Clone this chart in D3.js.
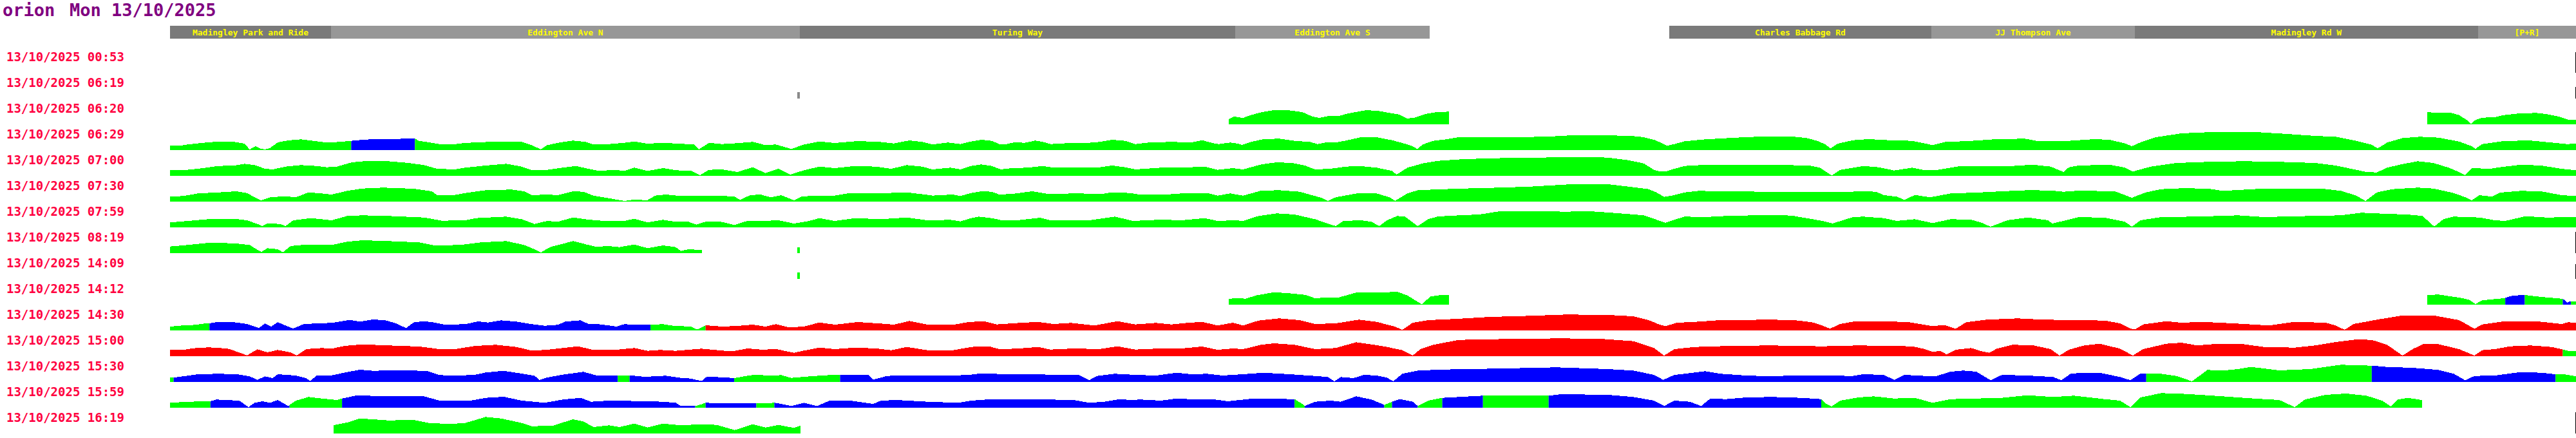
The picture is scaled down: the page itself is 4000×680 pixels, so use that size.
<!DOCTYPE html>
<html><head><meta charset="utf-8">
<script src="https://cdn.jsdelivr.net/npm/d3@7"></script>
<style>body{margin:0;background:#fff;overflow:hidden}svg{display:block}</style>
</head><body>
<svg id="c" width="4000" height="680"></svg>
<script>
// ---------- data ----------
const titleName = "orion";
const titleDate = "Mon 13/10/2025";
const rowLabels = ["13/10/2025 00:53","13/10/2025 06:19","13/10/2025 06:20","13/10/2025 06:29","13/10/2025 07:00","13/10/2025 07:30","13/10/2025 07:59","13/10/2025 08:19","13/10/2025 14:09","13/10/2025 14:12","13/10/2025 14:30","13/10/2025 15:00","13/10/2025 15:30","13/10/2025 15:59","13/10/2025 16:19"];
const stopNames = ["Madingley Park and Ride","Eddington Ave N","Turing Way","Eddington Ave S","Charles Babbage Rd","JJ Thompson Ave","Madingley Rd W","[P+R]"];
const stopFrom = [0, 6.69, 26.18, 44.27, 62.31, 73.21, 81.66, 95.93];
const stopTo   = [6.69, 26.18, 44.27, 52.36, 73.21, 81.66, 95.93, 100];
const statusColors = {g:"#00ff00", b:"#0000ff", r:"#ff0000", x:"#8a8a8a"};

// speed profiles: [route %, value]; null value = gap
const r0620 = [[44.0,7.7],[44.22,12.3],[44.39,11],[44.6,10],[44.9,14],[45.35,18.7],[45.84,21.7],[46.5,21.7],[47.06,19],[47.49,12],[47.76,10],[48.12,12.7],[48.55,12.7],[48.98,17],[49.68,21.7],[50.15,21.3],[50.69,17.7],[51.11,15],[51.39,9.3],[51.69,9.7],[52.18,16],[52.6,18.7],[53.16,19.7],[53.2,null],
[93.81,19.3],[94.07,18],[94.82,17.7],[95.14,14.3],[95.46,6.7],[95.63,0.7],[95.82,6.7],[96.1,10.3],[96.63,11],[96.95,14],[97.59,16.7],[98.34,17.7],[98.76,16],[99.3,12],[99.72,6.7],[100,6.7]];
const r0629 = [[0,6.7],[0.42,6.7],[0.74,8.7],[1.38,11.3],[2.02,13.3],[2.67,12.7],[3.1,10],[3.31,1],[3.56,6],[3.73,2.7],[3.95,1],[4.16,3.3],[4.48,12],[4.91,15],[5.44,16.7],[5.97,14.3],[6.51,11.7],[7.04,12.7],[7.53,14.3],[8.0,16],[8.64,17.3],[9.28,17.3],[9.92,17.7],[10.18,17.7],[10.35,14.3],[10.77,12],[11.2,9.3],[11.73,8.7],[12.16,10.7],[12.7,12],[13.76,13.3],[14.62,12.7],[15.04,7.7],[15.41,1],[15.68,7.7],[16.22,12],[16.75,14.7],[17.28,12.7],[17.6,8.7],[18.24,9.3],[18.88,11.3],[19.3,13.3],[19.85,10],[20.49,11.3],[21.13,10],[21.77,8.7],[21.98,1],[22.4,11.3],[22.94,9.3],[23.58,10.7],[24.22,12.7],[24.75,7.7],[25.18,8.7],[25.5,5.3],[25.82,1.7],[26.35,8.7],[26.99,13.3],[27.63,11],[28.49,13.7],[29.34,13.3],[30.09,10.3],[30.73,15],[31.26,12.7],[31.69,8.7],[32.33,11.7],[32.86,9.3],[33.29,13.3],
[33.72,16],[34.15,14.3],[34.47,9.3],[34.68,8.7],[35.11,12],[35.53,11.3],[35.96,14.7],[36.28,12.7],[36.6,9.3],[37.56,11.3],[38.2,11.3],[38.63,12.7],[39.16,16],[39.7,14.3],[40.12,9.3],[40.76,12],[41.62,12.7],[42.47,12],[42.9,15.3],[43.32,11],[43.58,9.3],[44.07,11.7],[44.39,10],[44.56,8],[44.92,12.7],[45.46,17],[46.1,17.7],[46.74,14.3],[47.38,12.7],[47.7,9.3],[48.02,11.7],[48.45,11.7],[48.87,14.7],[49.51,20],[50.15,20],[50.79,15.3],[51.32,10],[51.65,6],[51.84,1.7],[52.07,8.7],[52.5,14.3],[53.03,16.7],[53.57,20],[55.49,20],[57.19,20.7],[58.15,22.7],[59.97,22.7],[60.82,21.7],[61.25,20],[61.68,16],[62.0,11],[62.21,6.7],[62.53,9.3],[62.96,13.7],[63.81,16.7],[64.45,18],[65.09,19.3],[65.94,20.7],
[66.54,20.7],[67.5,20.7],[68.03,18.7],[68.46,14.3],[68.78,9.3],[69.02,2.7],[69.31,10],[69.95,15.3],[70.59,17],[71.45,15.3],[72.41,14.3],[72.94,10.3],[73.26,7.7],[73.8,12.7],[74.76,14],[75.93,17],[77.1,17.7],[77.64,13.7],[78.92,14.3],[79.98,17],[80.62,16],[81.26,10.3],[81.54,6],[81.9,12],[82.54,20],[83.61,26],[84.68,27.7],[86.81,27.7],[87.88,25.3],[89.16,22],[90.01,20.7],[90.87,14.3],[91.51,8.3],[91.76,2.7],[92.15,11.7],[92.79,18.7],[93.53,20.7],[94.28,19.3],[95.14,13.3],[95.67,6],[95.82,2],[96.1,9.3],[97.06,14.3],[98.12,14.7],[98.98,11.7],[99.62,9.3],[100,10]];
const r0700 = [[0,8.7],[0.53,8.7],[1.17,11],[2.02,15.3],[2.67,16],[3.1,18.7],[3.52,16.7],[3.95,11],[4.27,10],[4.8,14.3],[5.44,16.7],[6.08,15.3],[6.51,13.3],[6.93,14.3],[7.57,21],[8.22,23.3],[9.07,22.7],[9.92,20],[10.56,16.7],[11.1,11],[11.84,10],[12.27,12.7],[13.12,16],[13.98,18.7],[14.62,14.3],[15.04,8.7],[15.68,9.3],[16.32,12.7],[16.86,15.3],[17.39,11],[17.82,7.7],[18.46,9.3],[18.88,7.7],[19.3,12.7],[19.85,7.7],[20.49,12],[21.02,8.7],[21.66,7.7],[22.02,1],[22.4,9.3],[22.94,10],[23.58,6],[24.22,13.3],[24.75,4.3],[25.29,11],[25.78,2],[26.35,8.7],[26.99,14.3],[27.63,12],[28.49,15.3],[29.34,14.3],[29.98,11],[30.62,16.7],[31.26,14.3],[31.69,10],[32.44,12.7],[32.86,10],[33.29,15.3],
[33.72,17.7],[34.15,15.3],[34.53,10],[35.0,12],[35.64,12.7],[36.28,15.3],[36.71,12.7],[37.77,12.7],[38.63,13.3],[39.16,16],[39.7,13.3],[40.12,10],[41.19,12.7],[42.04,12.7],[43.0,14.3],[43.54,9.3],[44.18,12],[44.6,10],[45.35,17.7],[45.99,21],[46.63,20],[47.17,16],[47.59,10],[48.23,11],[48.87,14.3],[49.41,15.3],[50.15,12.7],[50.79,7.7],[50.98,2],[51.43,12.7],[52.07,19.3],[52.71,23.3],[53.78,26],[55.49,27.7],[57.62,28.7],[58.9,29.3],[59.76,28.3],[60.61,24.3],[61.25,19.3],[61.68,9.3],[61.89,7],[62.21,7.3],[62.53,11],[62.96,15.3],[63.6,16.7],
[66.54,16.7],[67.18,16.7],[68.14,16],[68.57,12.7],[68.78,7.7],[69.06,0.5],[69.42,9.3],[70.38,15.3],[71.02,13.3],[71.66,8.3],[72.41,12.7],[72.94,8.7],[73.37,8.7],[74.44,15.3],[76.57,15.3],[77.42,17.3],[78.17,14.3],[78.7,6],[78.92,13.3],[79.34,16],[80.62,17.3],[81.26,12.7],[81.58,6.7],[82.33,14.3],[83.4,20],[84.68,21.7],[86.17,22.7],[87.45,22],[89.16,20],[90.01,16],[90.87,9.3],[91.29,6],[91.72,5.3],[92.15,12.7],[92.79,18.3],[93.43,22.7],[94.07,20],[94.71,12.7],[95.14,6],[95.39,1],[95.67,12],[96.42,11],[96.84,13.3],[97.7,17.3],[98.55,16],[99.4,11],[100,8.7]];
const r0730 = [[0,7.7],[0.53,8.7],[1.17,12.7],[2.02,14.3],[2.77,16],[3.2,13.3],[3.52,6.7],[3.78,2],[4.16,6.7],[4.8,8.3],[5.23,6.7],[5.76,14.3],[6.3,12.7],[6.72,11],[7.36,16.7],[8.0,20.3],[8.86,21.7],[10.14,20],[10.88,16],[11.1,10],[11.84,10.3],[12.27,13.3],[13.12,17.7],[14.19,18.7],[14.72,16],[15.04,10],[15.68,11],[16.11,10],[16.75,16],[17.18,15.3],[17.6,9.3],[18.24,5.3],[18.88,1],[19.3,3.3],[19.83,2],[20.17,9.3],[20.6,11],[21.23,8.7],[22.09,9.3],[22.83,9.3],[23.47,7.7],[23.69,2.7],[24.11,10],[24.54,11],[24.97,6.7],[25.4,10],[25.72,5.3],[25.93,2],[26.25,7.7],[26.78,9.3],[27.63,9.3],[28.27,13.3],[29.34,12.7],[30.62,14.3],[31.37,11],[31.69,9.3],[32.54,11],[32.86,8.7],[33.29,13.3],
[33.72,16],[34.15,15.3],[34.47,11],[35.0,12],[35.85,16],[36.49,12],[37.67,12.7],[38.74,12],[39.16,14.3],[39.91,13.3],[40.34,10.7],[41.4,11],[42.04,12.7],[43.11,13.3],[43.54,9.3],[44.07,12.7],[44.6,9.3],[45.35,17],[46.1,17.7],[46.95,15.3],[47.59,8.7],[47.91,5.3],[48.12,1],[48.45,6.7],[49.41,13.3],[50.15,12.7],[50.69,6.7],[50.92,1.3],[51.43,12.7],[51.86,17.7],[52.93,19.3],[54.42,21],[55.27,21.7],[56.55,23.3],[58.26,27],[59.76,27],[60.61,23.3],[61.46,19.3],[61.78,14.3],[62.1,7.3],[62.42,9.3],[62.96,14.3],[63.6,17],[64.02,16],[66.54,15.3],
[67.82,15.3],[68.46,14.7],[69.31,14.7],[70.38,16],[70.91,15.3],[71.23,10],[71.77,7.7],[72.09,2.7],[72.52,10.3],[73.16,6.7],[74.01,12.7],[75.08,14],[76.14,16],[77.21,17.7],[78.17,17.3],[78.7,15.3],[79.34,17],[80.84,16],[81.26,10],[81.54,6],[82.12,14.3],[82.76,19.3],[83.61,20.7],[84.68,20.3],[85.32,16.7],[85.96,18],[86.92,20],[89.48,20],[90.23,16.7],[90.87,9.3],[91.25,1],[91.72,14.3],[92.36,19.3],[93.43,21.7],[94.07,20.3],[94.92,13.3],[95.46,6],[95.67,2],[95.99,10],[96.52,7.7],[96.84,14],[97.7,16.7],[98.55,16],[99.4,10],[100,8.7]];
const r0759 = [[0,7.7],[0.74,10],[1.6,12.7],[2.67,13.3],[3.2,11],[3.63,5.3],[3.84,2],[4.05,6],[4.59,5.3],[4.8,2],[5.12,11],[5.87,14.3],[6.72,11],[7.36,17.7],[8.0,18.7],[9.07,17.7],[10.56,15.3],[11.3,10.3],[12.27,11],[12.7,14.3],[13.98,16.7],[14.62,12.7],[15.15,5.3],[15.68,10],[16.11,8.7],[16.75,15.3],[17.39,12],[18.03,10],[18.88,10],[19.3,13.3],[19.85,7.7],[20.49,11.7],[21.02,8.7],[21.55,8.7],[21.87,4.3],[22.3,9.3],[22.83,9.3],[23.47,3.7],[24.01,10.3],[24.65,10],[25.29,11],[25.93,6],[26.57,10],[26.99,14.3],[27.63,10],[28.49,14.3],[29.55,12.7],[30.62,15.3],[31.48,11],[32.44,11.7],[32.86,9.3],[33.29,14.3],
[33.61,16.7],[34.15,14.3],[34.58,11],[35.21,11],[36.17,15],[36.6,11],[37.35,11],[38.2,11],[39.27,16.7],[40.02,10],[41.19,12],[42.04,11],[43.0,14.3],[43.54,10],[44.28,11],[44.6,10],[45.24,17.7],[45.99,21.7],[46.74,20],[47.59,12.7],[48.12,6],[48.45,2],[48.77,10],[49.51,11],[49.94,8.7],[50.26,2],[50.58,11],[51.01,17.7],[51.33,16.7],[51.65,7.7],[51.86,2],[52.29,12.7],[52.71,17],[53.57,18.7],[54.42,20],[55.27,25],[56.55,25.3],[58.05,24.3],[58.9,25.3],[60.18,22],[61.25,18.7],[61.78,12],[62.15,7],[62.53,12],[62.96,16.7],[63.81,16],[64.66,17.7],[66.54,19.3],
[67.39,18.3],[68.03,14.3],[68.67,10],[69.1,6],[69.95,16],[70.38,16.7],[71.23,14.3],[71.77,10],[72.52,12.7],[73.26,6.7],[74.01,12.7],[74.86,12],[75.29,7.3],[75.67,1],[76.36,11],[77.21,15.3],[78.06,11],[78.23,6],[78.81,11],[79.34,16],[80.41,15],[81.26,8.7],[81.54,1],[81.9,11],[82.76,16],[84.25,16.7],[85.96,18.7],[87.03,16],[88.95,17.7],[90.23,18.7],[91.08,22.7],[92.15,21],[92.99,20],[93.63,17.7],[93.96,6],[94.11,1.3],[94.49,12.7],[94.92,16.7],[95.99,15.3],[96.63,11],[97.06,10],[97.91,17.3],[98.76,15.3],[100,16]];
const r0819 = [[0,10.3],[0.74,12.7],[1.6,16],[2.67,15.3],[3.31,12.7],[3.63,5.3],[3.8,2],[4.05,7.7],[4.48,6],[4.69,1.3],[5.01,11],[5.66,13.3],[6.3,13.3],[6.72,12.7],[7.36,17.7],[8.0,20],[9.07,18.7],[10.35,16.7],[11.0,12],[12.06,12.7],[12.91,16.7],[13.98,18.7],[14.72,12.7],[15.15,6],[15.41,1],[15.79,9.3],[16.75,18.7],[17.39,12.7],[17.71,10],[18.24,11],[18.67,9.3],[19.3,13.3],[19.85,7.7],[20.49,12],[21.02,9.3],[21.23,3.3],[21.55,6],[21.87,5.3],[22.1,5]];
const r1412 = [[44.0,8.7],[44.28,10.3],[44.71,9.3],[45.14,14.3],[45.88,19.3],[46.53,17.7],[47.17,15.3],[47.59,10],[48.02,11],[48.55,11],[49.3,18.7],[50.15,18.7],[50.58,19.3],[51.01,20],[51.43,14.3],[51.86,4.3],[52.03,0.7],[52.39,12.7],[52.82,15],[53.16,15],[53.2,null],
[93.81,15],[94.28,15.7],[95.14,11],[95.56,7.7],[95.82,1],[96.1,6.7],[96.63,8.7],[97.01,10],[97.27,13.3],[97.8,15.3],[98.55,12],[99.4,9.3],[99.51,7.7],[99.64,3.3],[99.72,5],[100,5.3]];
const r1430 = [[0,6],[0.53,7.7],[1.07,8.7],[1.49,11],[1.64,11],[1.92,12.7],[2.67,12.7],[3.2,10],[3.52,6],[3.69,3.7],[3.95,11],[4.2,6],[4.48,12.7],[4.8,7.7],[5.12,3],[5.55,9.7],[6.08,11],[6.72,11.7],[7.47,16.3],[7.89,13.7],[8.43,17],[8.96,15.7],[9.39,11],[9.81,3.7],[10.14,12.7],[10.56,14.3],[10.99,12.3],[11.41,9],[12.27,9.7],[12.8,14],[13.23,12.3],[13.76,15.7],[14.4,13.7],[15.04,9.7],[15.58,7.3],[16.11,8.7],[16.43,13.7],[17.07,15.7],[17.39,10],[17.82,9.7],[18.24,7.7],[18.56,6],[18.88,9.7],[19.3,9],[19.97,9],[20.49,9.7],[20.9,7.3],[21.66,6],[21.92,1.3],[22.26,8],[22.94,6],[23.58,7],[24.22,9],[24.75,6],[25.18,9.7],[25.72,4.7],[26.35,6],[26.99,12.3],[27.63,9],[28.58,13],[29.55,10.7],[30.09,9],[30.73,14.7],[31.48,9],[32.54,8.7],[33.18,13],
[33.83,14.3],[34.36,9.3],[35.0,11],[36.07,13.3],[36.71,10],[37.46,11.7],[38.42,7.7],[39.38,14.3],[40.12,9.3],[40.98,11.7],[41.62,9.3],[42.26,11.7],[42.9,13.3],[43.54,7.7],[44.18,12],[44.6,7.7],[45.24,15.3],[46.1,18.7],[46.95,16],[47.59,10],[48.45,11],[49.41,16.7],[50.15,13.3],[50.9,6],[51.22,1],[51.65,12],[52.29,16],[53.35,17.7],[54.85,21],[56.55,22.7],[58.05,24.7],[59.76,24],[60.82,22],[61.46,16],[61.89,9.3],[62.15,6.7],[62.64,12],[63.38,13.3],[64.45,16],[66.54,16.7],
[67.5,16],[68.25,12.7],[68.67,7.7],[68.99,2.7],[69.42,10],[70.06,14.3],[71.45,14],[72.3,12.7],[73.16,7.3],[73.8,7.7],[74.22,2.7],[74.65,12.7],[75.5,16.7],[76.78,18.7],[77.85,16.7],[79.34,16],[80.41,15.3],[81.05,11],[81.48,2.7],[81.69,2],[82.01,9.3],[82.97,14.3],[83.61,12],[84.46,13.3],[85.74,11],[87.24,7.7],[88.31,13.3],[89.59,12],[90.01,7.7],[90.38,1],[90.76,10],[91.72,16.7],[92.79,23.3],[94.07,23.3],[95.14,16],[95.78,2.7],[96.1,9.3],[97.06,14.3],[98.34,14.3],[99.4,10],[99.68,12.7],[100,12]];
const r1500 = [[0,9.7],[0.53,9.7],[0.96,12.3],[1.6,13.7],[2.02,13],[2.45,11.3],[2.88,5.7],[3.2,1.3],[3.63,10.7],[4.05,6],[4.48,9.7],[5.01,6],[5.27,1.3],[5.66,11],[6.3,12.7],[6.72,11.7],[7.25,16],[8.0,18.3],[9.07,16.7],[10.35,15],[11.2,11],[11.84,11],[12.7,16],[13.55,17.7],[14.4,14.3],[15.04,8.7],[15.68,10],[16.32,12.7],[16.96,15.3],[17.6,9.7],[18.46,9.7],[19.3,12.7],[19.85,8.3],[20.38,9.7],[21.02,8.3],[22.09,11.7],[22.94,8.7],[23.37,7.7],[24.01,12],[24.65,10],[25.18,11.3],[25.61,7.7],[25.93,5.3],[26.35,8.7],[26.99,13.3],[27.63,11],[28.49,13.3],[29.34,12],[29.98,9.3],[30.62,14.3],[31.48,9.3],[32.54,9.3],[33.07,12.7],
[33.51,15.3],[34.04,15.3],[34.47,11],[35.21,11.7],[36.07,14.3],[36.6,10.3],[37.56,12],[38.63,11],[39.38,15.3],[40.12,10.3],[40.98,11.7],[42.04,12],[42.9,15],[43.54,10],[44.18,12],[44.6,11],[45.35,17.7],[45.88,20],[46.74,17.7],[47.59,11],[48.45,12.7],[49.3,21.7],[49.94,18.3],[50.58,14.3],[51.22,9.3],[51.65,1],[51.97,11],[52.5,17.7],[53.57,25.3],[55.49,26.7],[57.83,27.7],[59.55,26.7],[60.82,23.3],[61.68,12.7],[62.1,1],[62.53,11],[63.38,14.3],[64.88,16],[66.54,16.7],
[68.67,15.3],[70.17,16.7],[71.45,16],[72.41,15.3],[72.94,11],[73.26,6.7],[73.58,8.3],[73.84,2.7],[74.22,10],[74.86,12.7],[75.29,7.7],[75.61,5.3],[75.93,11.7],[76.57,17.7],[77.42,17],[78.17,11],[78.53,1],[78.92,10],[79.56,16.7],[80.2,19.3],[81.05,11.7],[81.58,1],[82.01,11],[82.97,19.3],[83.61,21],[84.25,16.7],[85.11,19.3],[86.17,18.7],[87.03,14.3],[88.31,13.3],[89.16,16.7],[90.01,22],[90.87,26],[91.51,25.3],[92.15,17.7],[92.79,1],[93.21,11],[93.64,18.7],[94.28,18.7],[95.14,11],[95.78,1],[96.1,9.3],[96.63,11],[97.27,15.3],[98.12,16.7],[98.98,14.3],[99.4,11],[99.72,7.7],[100,7.7]];
const r1530 = [[0,6.7],[0.15,6.7],[0.53,8.7],[1.17,12],[2.02,12.7],[2.77,12],[3.31,8.7],[3.63,3.3],[3.95,8.7],[4.27,6],[4.48,12],[5.23,10],[5.66,6],[5.83,1.3],[6.08,9.7],[6.72,10.3],[7.36,15.3],[7.89,19],[8.43,17.3],[9.28,18],[10.67,17.3],[11.2,10.7],[11.95,9.7],[12.7,11.3],[13.12,14.7],[13.87,17.3],[14.62,13],[15.15,9.7],[15.36,3],[15.68,7],[16.32,11.3],[17.18,15.7],[17.71,10.3],[18.61,9.7],[19.1,10.3],[19.74,8],[20.6,9.7],[21.23,6.3],[21.66,5.3],[22.09,1.3],[22.3,8],[22.94,7.3],[23.45,6],[24.01,9.7],[24.33,11.3],[24.97,9.7],[25.4,10.7],[25.82,6.3],[26.35,8],[27.21,10.3],[27.85,11.3],[28.49,11.3],[29.02,11.3],[29.23,3.7],[29.45,5.7],[29.77,9],[30.2,10.3],[31.48,9.7],[32.76,10.3],[33.29,11.3],
[33.72,13.3],[34.79,12],[35.85,12],[36.92,11],[37.77,11],[38.2,2.7],[38.52,9.3],[39.27,12.7],[40.12,11],[40.98,10],[41.83,14.3],[42.47,12],[43.11,12.7],[43.75,10],[44.6,12],[45.46,14.3],[46.53,12],[47.59,9.3],[48.12,7.7],[48.4,1],[48.66,7.7],[49.19,6],[49.62,11],[50.15,10],[50.58,6.7],[50.84,1],[51.22,12.7],[51.86,17.7],[52.93,19.3],[55.49,21],[57.62,22.7],[59.76,20],[60.82,17.7],[61.68,11],[62.06,3.3],[62.53,11],[62.96,12.7],[63.81,16.7],[64.45,12.7],[65.52,10],[66.54,8.7],
[67.39,10],[68.67,10],[69.95,9.3],[70.38,12],[71.23,11],[71.66,3.3],[72.09,11],[72.94,9.3],[73.37,8.7],[74.01,16],[74.54,17.7],[75.08,16],[75.67,2.7],[76.14,11],[77.21,10],[78.28,7.7],[78.6,2.7],[79.02,13.3],[80.2,14.3],[81.05,7.7],[81.48,2.7],[81.9,13.3],[82.14,13.3],[82.76,12.7],[83.4,9.3],[84.04,1],[84.68,18.7],[85.32,17.7],[85.96,20],[86.49,23.3],[87.03,21],[87.67,18],[88.95,20],[90.23,26.7],[91.51,25.3],[92.15,23.3],[93.21,22],[94.28,18.7],[94.92,12.7],[95.39,2.7],[95.78,9.3],[96.63,10],[97.7,15.3],[98.55,14.3],[99.15,12],[99.51,12],[100,8.7]];
const r1559 = [[0,7.7],[0.74,9.3],[1.68,10],[1.92,12.7],[2.88,11],[3.26,1],[3.52,7.7],[3.84,10],[4.16,7.7],[4.48,12],[4.91,2.7],[5.23,11],[5.76,16.7],[6.3,14.3],[6.93,12],[7.15,14.3],[7.79,19.3],[8.86,17.7],[10.56,17.7],[11.2,11],[12.48,11],[13.12,15.3],[13.87,17],[14.62,11],[15.58,7.7],[16.32,12.7],[17.07,15.3],[17.5,9.3],[18.24,11],[19.53,10.3],[20.49,9.3],[21.02,7.7],[21.23,2.7],[21.83,2.7],[22.09,5.3],[22.26,7.7],[22.94,6.7],[24.37,6.7],[24.65,6.7],[25.12,7.7],[25.4,6],[25.82,2.7],[26.35,7.7],[26.89,2.7],[27.42,11],[28.27,11],[29.23,6],[29.55,11],[30.2,12],[31.48,9.3],[32.76,7.7],[33.29,11],
[33.93,12.7],[35.21,12.7],[36.49,12.7],[37.56,12],[38.2,7.7],[38.84,9.3],[39.48,13.3],[39.91,12],[40.34,12.7],[41.19,11],[41.83,14.3],[42.68,12.7],[43.32,13.3],[43.96,10],[45.03,14.3],[46.74,13.3],[47.06,6],[47.16,2.7],[47.59,9.3],[48.23,11],[48.66,9.3],[49.3,17.7],[49.94,12.7],[50.37,6],[50.47,4.3],[50.79,9.3],[51.11,13.3],[51.65,9.3],[51.86,2.7],[52.29,11],[52.88,15.3],[53.57,16.7],[54.57,18.7],[55.49,18.7],[57.3,18.7],[57.83,21],[59.76,20],[60.82,16.7],[61.68,11],[62.1,2.7],[62.53,11],[63.17,9.3],[63.64,2.7],[64.02,14.3],[64.66,13.3],[65.52,16],[66.54,16.7],
[67.39,16],[68.25,14.3],[68.63,13.3],[68.84,6],[69.06,2],[69.42,11],[70.17,16],[70.81,17.7],[71.66,14.3],[72.52,15.3],[73.26,7.7],[74.01,13.3],[75.08,14.3],[76.14,15.3],[77.21,19.3],[78.28,16.7],[79.13,18.7],[80.41,13.3],[81.05,11],[81.48,1],[81.9,16],[82.76,22.7],[83.61,21.7],[84.68,19.3],[86.6,14.3],[87.67,12],[88.31,1],[88.73,12.7],[89.59,20],[90.44,22],[91.29,18.7],[91.94,11],[92.3,2],[92.58,12.7],[93.0,15.3],[93.6,12]];
const r1619 = [[6.81,13],[7.36,17],[7.89,23.3],[8.43,22],[9.07,20.3],[10.14,21],[10.77,16.3],[11.63,14.7],[12.27,16.3],[13.12,25.7],[13.76,23.3],[14.62,16.3],[15.04,11.3],[15.9,12],[16.75,22],[17.18,18.7],[17.6,10],[18.24,12.7],[18.67,10],[19.3,15.3],[19.85,9.3],[20.49,15.3],[21.23,12.7],[22.09,14.3],[22.73,13.3],[23.47,5.3],[24.22,14.3],[24.75,9.3],[25.29,13.3],[25.93,8.7],[26.2,12]];

// status segments along the route: [from %, to %, status]
const allGreen = [[0,100,"g"]];
const s0629 = [[0,7.53,"g"],[7.53,10.18,"b"],[10.18,100,"g"]];
const s1412 = [[0,97.06,"g"],[97.06,97.87,"b"],[97.87,99.45,"g"],[99.45,99.79,"b"],[99.79,100,"g"]];
const s1430 = [[0,1.64,"g"],[1.64,19.97,"b"],[19.97,22.26,"g"],[22.26,100,"r"]];
const s1500 = [[0,99.45,"r"],[99.45,100,"g"]];
const s1530 = [[0,0.15,"g"],[0.15,18.61,"b"],[18.61,19.1,"g"],[19.1,23.45,"b"],[23.45,27.85,"g"],[27.85,82.14,"b"],[82.14,91.51,"g"],[91.51,99.15,"b"],[99.15,100,"g"]];
const s1559 = [[0,1.68,"g"],[1.68,4.97,"b"],[4.97,7.15,"g"],[7.15,21.83,"b"],[21.83,22.26,"g"],[22.26,24.37,"b"],[24.37,25.12,"g"],[25.12,46.74,"b"],[46.74,47.16,"g"],[47.16,50.47,"b"],[50.47,50.79,"g"],[50.79,51.86,"b"],[51.86,52.88,"g"],[52.88,54.57,"b"],[54.57,57.3,"g"],[57.3,68.63,"b"],[68.63,100,"g"]];

const rowProfiles = [null, null, r0620, r0629, r0700, r0730, r0759, r0819, null, r1412, r1430, r1500, r1530, r1559, r1619];
const rowStatus   = [null, null, allGreen, s0629, allGreen, allGreen, allGreen, allGreen, null, s1412, s1430, s1500, s1530, s1559, allGreen];

// isolated single readings
const blipRows = ["13/10/2025 06:19","13/10/2025 08:19","13/10/2025 14:09"];
const blipPos = [26.07, 26.07, 26.07];
const blipVals = [10, 9.3, 10];
const blipStatus = ["x","g","g"];
// end-of-route markers
const endRows = ["13/10/2025 00:53","13/10/2025 06:19","13/10/2025 08:19","13/10/2025 14:09","13/10/2025 16:19"];
const endVals = [32, 18, 33, 23, 33];

// ---------- drawing ----------
const svg = d3.select("#c");
const defs = svg.append("defs");
const x = d3.scaleLinear().domain([0,100]).range([264,4000]);
const row = d3.scaleBand().domain(rowLabels).range([80,680]);
const h = d3.scaleLinear().domain([0,40]).range([0,40]);
const BASE = 33;

// title
const tf = "'DejaVu Sans Mono', monospace";
svg.append("text").attr("x",4).attr("y",25).text(titleName)
  .attr("font-family",tf).attr("font-weight","bold").attr("font-size",27).attr("fill","#800080");
svg.append("text").attr("x",108).attr("y",25).text(titleDate)
  .attr("font-family",tf).attr("font-weight","bold").attr("font-size",27).attr("fill","#800080");

// stop header
const hdr = svg.append("g");
stopNames.forEach((n,i)=>{
  const x0 = x(stopFrom[i]), x1 = x(stopTo[i]);
  hdr.append("rect").attr("x",x0).attr("y",40).attr("width",x1-x0).attr("height",20)
    .attr("fill", i%2===0 ? "#7a7a7a" : "#979797").attr("shape-rendering","crispEdges");
  hdr.append("text").attr("x",(x0+x1)/2).attr("y",55).attr("text-anchor","middle")
    .attr("font-family",tf).attr("font-weight","bold").attr("font-size",13).attr("fill","#ffff00").text(n);
});

// row labels
svg.append("g").selectAll("text").data(rowLabels).join("text")
  .attr("x",10).attr("y",d=>row(d)+15).text(d=>d)
  .attr("font-family",tf).attr("font-weight","bold").attr("font-size",19.5)
  .attr("textLength",183).attr("lengthAdjust","spacingAndGlyphs")
  .attr("fill","#ff0040");

// profiles
const g = svg.append("g");
rowLabels.forEach((lab,i)=>{
  const prof = rowProfiles[i];
  if(!prof) return;
  const y0 = row(lab), base = y0 + BASE;
  const area = d3.area().defined(d=>d[1]!=null)
    .x(d=>x(d[0])).y0(base).y1(d=>base-h(d[1])).curve(d3.curveLinear);
  const dPath = area(prof);
  rowStatus[i].forEach((s,j)=>{
    const id = `cl${i}_${j}`;
    defs.append("clipPath").attr("id",id).append("rect")
      .attr("x",x(s[0])).attr("width",x(s[1])-x(s[0])).attr("y",y0-10).attr("height",BASE+11);
    g.append("path").attr("d",dPath).attr("fill",statusColors[s[2]])
      .attr("clip-path",`url(#${id})`).attr("shape-rendering","crispEdges");
  });
});

// blips
blipRows.forEach((lab,i)=>{
  const base = row(lab)+BASE;
  g.append("rect").attr("x",x(blipPos[i])).attr("width",x(blipPos[i]+0.12)-x(blipPos[i]))
    .attr("y",base-h(blipVals[i])).attr("height",h(blipVals[i]))
    .attr("fill",statusColors[blipStatus[i]]).attr("shape-rendering","crispEdges");
});
// end markers
endRows.forEach((lab,i)=>{
  const base = row(lab)+BASE;
  g.append("rect").attr("x",x(100)-1).attr("width",1)
    .attr("y",base-h(endVals[i])).attr("height",h(endVals[i]))
    .attr("fill","#000").attr("shape-rendering","crispEdges");
});
</script>
</body></html>
